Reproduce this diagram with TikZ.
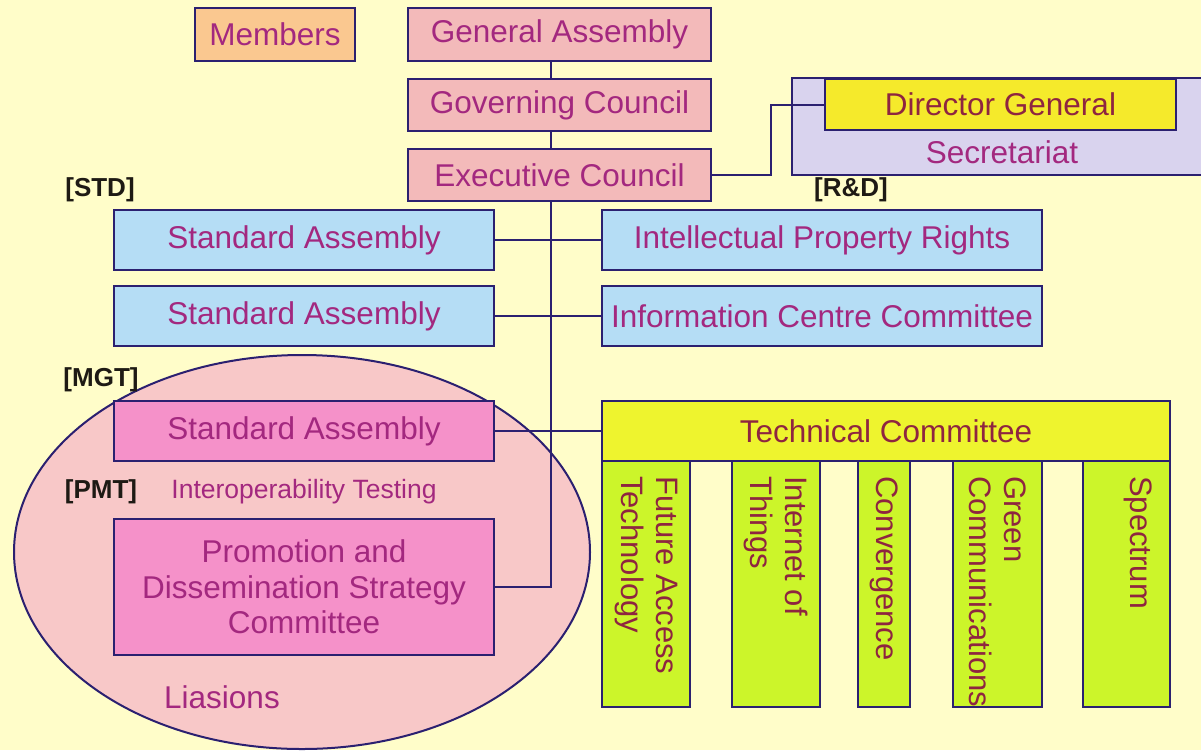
\documentclass[tikz,border=0pt]{standalone}
\usepackage{fontspec}
\setmainfont{Liberation Sans}
\begin{document}
\begin{tikzpicture}[x=1pt,y=-1pt,
  bordercol/.style={draw=navyb, line width=2pt},
  box/.style={bordercol, inner sep=0pt, text=txtc, font=\fontsize{31.5}{35.5}\selectfont},
  vbox/.style={bordercol, fill=limec, inner sep=0pt},
  vtext/.style={rotate=-90, anchor=west, align=left, inner sep=0pt, text=vtxt, font=\fontsize{31}{35}\selectfont},
  tag/.style={font=\bfseries\fontsize{26}{30}\selectfont, text=tagc, inner sep=0pt},
  conn/.style={draw=navyb, line width=2pt}]
\definecolor{bgc}{HTML}{FFFDC9}
\definecolor{navyb}{HTML}{2B2070}
\definecolor{txtc}{HTML}{A3287F}
\definecolor{vtxt}{HTML}{8E2540}
\definecolor{tagc}{HTML}{1E1A14}
\definecolor{memc}{HTML}{FAC890}
\definecolor{pinkc}{HTML}{F3BABA}
\definecolor{lavc}{HTML}{D9D3EE}
\definecolor{dgc}{HTML}{F5EA2B}
\definecolor{bluec}{HTML}{B5DDF5}
\definecolor{ellc}{HTML}{F8C8C8}
\definecolor{hotc}{HTML}{F591C9}
\definecolor{tcc}{HTML}{EEF42E}
\definecolor{limec}{HTML}{CCF52A}
\useasboundingbox (0,0) rectangle (1201,750);
\fill[bgc] (0,0) rectangle (1201,750);
% ellipse zone
\filldraw[fill=ellc, draw=navyb, line width=2pt] (302,552) ellipse [x radius=288pt, y radius=197pt];
% top boxes
\node[box, fill=memc, minimum width=160pt, minimum height=53pt] (mem) at (275,34.5) {Members};
\node[box, fill=pinkc, minimum width=303pt, minimum height=53pt] (ga) at (559.5,34.5) {General Assembly};
\node[box, fill=pinkc, minimum width=303pt, minimum height=52pt] (gc) at (559.5,105) {Governing Council};
\node[box, fill=pinkc, minimum width=303pt, minimum height=52pt] (ec) at (559.5,175) {Executive Council};
% secretariat
\node[box, fill=lavc, minimum width=420pt, minimum height=97pt] (sec) at (1002,126.5) {};
\node[box, fill=dgc, text=vtxt, minimum width=351pt, minimum height=51pt] (dg) at (1000.5,104.5) {Director General};
\node[text=txtc, font=\fontsize{31.5}{35}\selectfont, inner sep=0pt] (sect) at (1002,152) {Secretariat};
% tags
\node[tag] (std) at (100,190) {[STD]};
\node[tag] (rnd) at (851,190) {[R\&D]};
\node[tag] (mgt) at (101,380) {[MGT]};
\node[tag] (pmt) at (101,492) {[PMT]};
% rows
\node[box, fill=bluec, minimum width=380pt, minimum height=60pt] (sa1) at (304,240) {Standard Assembly};
\node[box, fill=bluec, minimum width=440pt, minimum height=60pt] (ipr) at (822,240) {Intellectual Property Rights};
\node[box, fill=bluec, minimum width=380pt, minimum height=60pt] (sa2) at (304,316) {Standard Assembly};
\node[box, fill=bluec, minimum width=440pt, minimum height=60pt] (icc) at (822,316) {Information Centre Committee};
\node[box, fill=hotc, minimum width=380pt, minimum height=60pt] (sa3) at (304,431) {Standard Assembly};
\node[box, fill=tcc, text=vtxt, minimum width=568pt, minimum height=60pt] (tc) at (886,431) {Technical Committee};
\node[text=txtc, font=\fontsize{26.5}{30}\selectfont, inner sep=0pt] (iot) at (304,492) {Interoperability Testing};
\node[box, fill=hotc, align=center, minimum width=380pt, minimum height=136pt] (pdsc) at (304,587) {Promotion and\\Dissemination Strategy\\Committee};
\node[text=txtc, font=\fontsize{31.5}{35}\selectfont, inner sep=0pt] (lia) at (222,697) {Liasions};
% vertical committees
\node[vbox, minimum width=88pt, minimum height=246pt] (fat) at (646,584) {};
\node[vbox, minimum width=88pt, minimum height=246pt] (int) at (776,584) {};
\node[vbox, minimum width=52pt, minimum height=246pt] (cnv) at (884,584) {};
\node[vbox, minimum width=89pt, minimum height=246pt] (grn) at (997.5,584) {};
\node[vbox, minimum width=87pt, minimum height=246pt] (spc) at (1126.5,584) {};
\node[vtext] (fatt) at ([yshift=-16pt]fat.north) {Future Access\\Technology};
\node[vtext] (intt) at ([yshift=-16pt]int.north) {Internet of\\Things};
\node[vtext] (cnvt) at ([yshift=-16pt]cnv.north) {Convergence};
\node[vtext] (grnt) at ([yshift=-16pt]grn.north) {Green\\Communications};
\node[vtext] (spct) at ([xshift=12pt,yshift=-16pt]spc.north) {Spectrum};
% connectors
\coordinate (trk) at (551,0);
\draw[conn] (ga.south -| trk) -- (gc.north -| trk);
\draw[conn] (gc.south -| trk) -- (ec.north -| trk);
\draw[conn] (ec.south -| trk) -- (pdsc.east -| trk) -- (pdsc.east);
\draw[conn] (sa1.east) -- (ipr.west);
\draw[conn] (sa2.east) -- (icc.west);
\draw[conn] (sa3.east) -- (tc.west);
\draw[conn] (ec.east) -- ++(59,0) |- (dg.west);
\end{tikzpicture}
\end{document}
